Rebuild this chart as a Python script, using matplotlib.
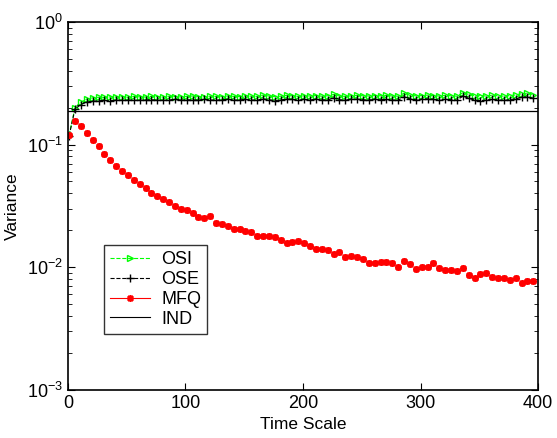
import numpy as np
import matplotlib
matplotlib.use('Agg')
import matplotlib.pyplot as plt
from matplotlib.lines import Line2D

plt.rcParams['font.family'] = ['Liberation Sans', 'DejaVu Sans']
plt.rcParams['mathtext.fontset'] = 'custom'
plt.rcParams['mathtext.rm'] = 'Liberation Sans'
plt.rcParams['mathtext.it'] = 'Liberation Sans'

# sample times (every 5 steps)
time = list(range(1, 400, 5))

osi = [0.12, 0.20, 0.222, 0.235, 0.24, 0.243, 0.242, 0.245, 0.244, 0.246,
       0.243, 0.247, 0.245, 0.244, 0.247, 0.246, 0.244, 0.248, 0.246, 0.245,
       0.247, 0.249, 0.246, 0.245, 0.248, 0.247, 0.246, 0.249, 0.247, 0.246,
       0.25, 0.248, 0.247, 0.253, 0.249, 0.246, 0.248, 0.252, 0.25, 0.247,
       0.25, 0.249, 0.251, 0.248, 0.25, 0.256, 0.249, 0.247, 0.25, 0.252,
       0.25, 0.249, 0.251, 0.25, 0.252, 0.249, 0.248, 0.262, 0.252, 0.25,
       0.251, 0.253, 0.25, 0.249, 0.252, 0.25, 0.248, 0.265, 0.256, 0.251,
       0.25, 0.249, 0.252, 0.25, 0.248, 0.251, 0.254, 0.26, 0.262, 0.255]

ose = [0.118, 0.195, 0.212, 0.222, 0.226, 0.227, 0.229, 0.228, 0.23, 0.229,
       0.231, 0.23, 0.229, 0.231, 0.232, 0.23, 0.229, 0.231, 0.233, 0.23,
       0.232, 0.231, 0.23, 0.233, 0.231, 0.23, 0.232, 0.234, 0.231, 0.23,
       0.233, 0.231, 0.23, 0.236, 0.232, 0.228, 0.231, 0.235, 0.233, 0.229,
       0.233, 0.231, 0.234, 0.232, 0.231, 0.24, 0.232, 0.23, 0.233, 0.235,
       0.232, 0.231, 0.234, 0.232, 0.233, 0.231, 0.23, 0.245, 0.236, 0.232,
       0.234, 0.236, 0.233, 0.229, 0.234, 0.232, 0.23, 0.248, 0.238, 0.23,
       0.228, 0.23, 0.233, 0.231, 0.229, 0.232, 0.236, 0.242, 0.245, 0.238]

mfq = [0.12, 0.157, 0.142, 0.125, 0.108, 0.0964, 0.0835, 0.075, 0.0674, 0.0607,
       0.0563, 0.0516, 0.0478, 0.0446, 0.0406, 0.0377, 0.0359, 0.0341, 0.0316, 0.0299,
       0.0292, 0.0276, 0.0256, 0.025, 0.0262, 0.023, 0.0226, 0.0218, 0.0203, 0.0205,
       0.0198, 0.0192, 0.0178, 0.018, 0.0178, 0.0177, 0.0167, 0.0156, 0.016, 0.0162,
       0.0158, 0.015, 0.014, 0.014, 0.0138, 0.0128, 0.0133, 0.0122, 0.0123, 0.0121,
       0.0116, 0.0109, 0.0109, 0.0111, 0.011, 0.0108, 0.0101, 0.0113, 0.0107, 0.0097,
       0.0101, 0.0101, 0.0109, 0.0098, 0.0095, 0.0095, 0.0093, 0.0098, 0.0086, 0.0081,
       0.0088, 0.0089, 0.0083, 0.0082, 0.0081, 0.0079, 0.0081, 0.0074, 0.0077, 0.0077]

ind_t = [0, 400]
ind = [0.188, 0.188]

# matlab style asterisk marker
star = (8, 2, 0)

fig = plt.figure(figsize=(5.57, 4.38), dpi=100)
ax = fig.add_axes([0.122, 0.110, 0.844, 0.840])

ax.plot(time, osi, ls='--', color='#00ff00', marker='>', mfc='none', ms=5, lw=0.8)
ax.plot(time, ose, ls='--', color='k', marker='+', ms=6, lw=0.8)
ax.plot(time, mfq, ls='none', color='red', marker=star, ms=5, mew=1.3)
ax.plot(ind_t, ind, ls='-', color='k', lw=0.9)

ax.set_yscale('log')
ax.set_xlim(0, 400)
ax.set_ylim(1e-3, 1)
ax.set_xticks([0, 100, 200, 300, 400])
ax.tick_params(which='both', direction='in', top=True, right=True, labelsize=13)
ax.tick_params(which='major', length=5)
ax.tick_params(which='minor', length=3)
for s in ax.spines.values():
    s.set_linewidth(1.2)

ax.set_xlabel('Time Scale', fontsize=12.5, labelpad=4)
ax.set_ylabel('Variance', fontsize=12.5, labelpad=5)

handles = [
    Line2D([], [], ls='--', color='#00ff00', marker='>', mfc='none', ms=5, lw=0.8),
    Line2D([], [], ls='--', color='k', marker='+', ms=6, lw=0.8),
    Line2D([], [], ls='-', color='red', marker=star, ms=5, mew=1.2, lw=0.8),
    Line2D([], [], ls='-', color='k', lw=0.8),
]
leg = ax.legend(handles, ['OSI', 'OSE', 'MFQ', 'IND'], loc='lower left',
                bbox_to_anchor=(0.077, 0.152), fontsize=13, frameon=True,
                fancybox=False, edgecolor='k', borderaxespad=0,
                handlelength=2.2, handletextpad=0.6, labelspacing=0.15,
                borderpad=0.35)
leg.get_frame().set_linewidth(1.0)

fig.savefig('out.png', dpi=100)
